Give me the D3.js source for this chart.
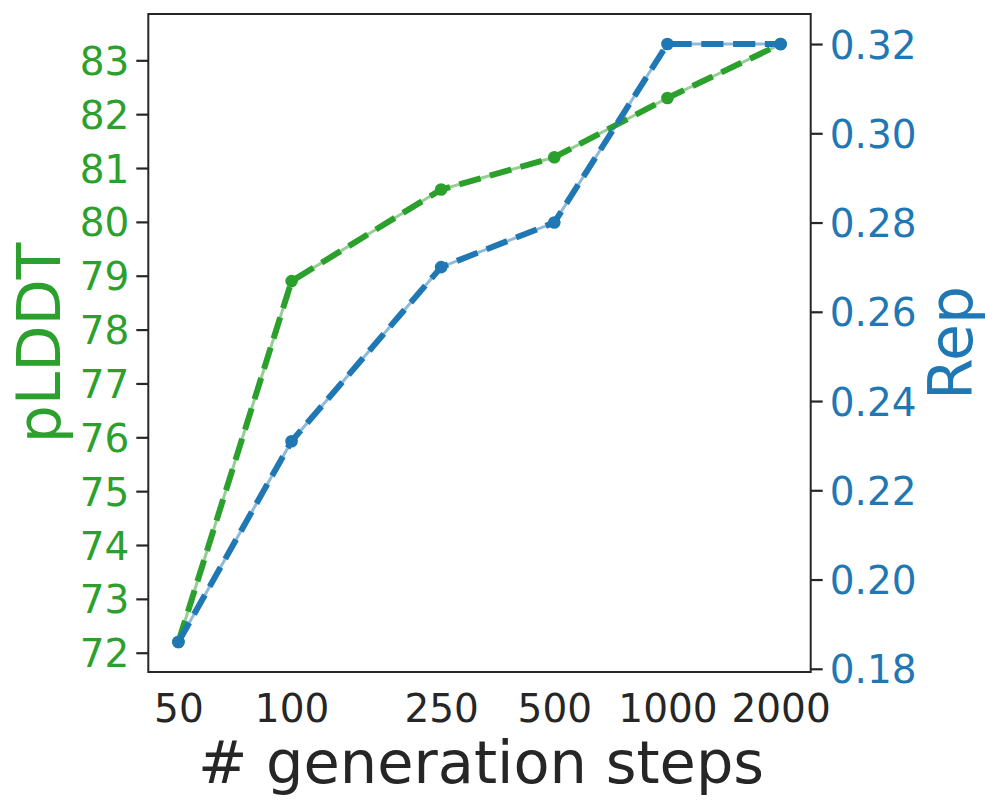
<!DOCTYPE html>
<html>
<head>
<meta charset="utf-8">
<script src="https://cdn.jsdelivr.net/npm/d3@7"></script>
<style>
  html, body { margin: 0; padding: 0; background: #fff; }
  svg { display: block; font-family: "DejaVu Sans", sans-serif; }
</style>
</head>
<body>
<svg id="chart" width="997" height="809"></svg>
<script>
// ---- data ----
const steps = [50, 100, 250, 500, 1000, 2000];
const plddt = [72.2, 78.9, 80.6, 81.2, 82.3, 83.3];
const rep = [0.186, 0.231, 0.270, 0.280, 0.320, 0.320];
const plddtTicks = [72, 73, 74, 75, 76, 77, 78, 79, 80, 81, 82, 83];
const repTicks = [0.18, 0.20, 0.22, 0.24, 0.26, 0.28, 0.30, 0.32];
const xLabel = "# generation steps";
const yLeftLabel = "pLDDT";
const yRightLabel = "Rep";

// ---- layout ----
const L = 148.3, R = 810.7, T = 14, B = 672;
const green = "#2ca02c", blue = "#1f77b4", dark = "#262626";

const svg = d3.select("#chart");

const logMin = Math.log10(50), logMax = Math.log10(2000);
const mx = (logMax - logMin) * 0.05;
const x = d3.scaleLog()
  .domain([Math.pow(10, logMin - mx), Math.pow(10, logMax + mx)])
  .range([L, R]);

const yL = d3.scaleLinear().domain([71.642, 83.86]).range([B, T]);
const yR = d3.scaleLinear().domain([0.17928, 0.32673]).range([B, T]);

// ---- lines ----
function drawSeries(vals, yScale, color) {
  const pts = steps.map((s, i) => [x(s), yScale(vals[i])]);
  const line = d3.line();
  svg.append("path").attr("d", line(pts))
    .attr("fill", "none").attr("stroke", color).attr("stroke-opacity", 0.5)
    .attr("stroke-width", 3);
  svg.append("path").attr("d", line(pts))
    .attr("fill", "none").attr("stroke", color)
    .attr("stroke-width", 6).attr("stroke-dasharray", "22.2,9.6");
  svg.selectAll(null).data(pts).enter().append("circle")
    .attr("cx", d => d[0]).attr("cy", d => d[1]).attr("r", 6.3)
    .attr("fill", color);
}
drawSeries(plddt, yL, green);
drawSeries(rep, yR, blue);

// ---- axes ----
const fs = 39;
const gL = svg.append("g").attr("transform", `translate(${L},0)`)
  .call(d3.axisLeft(yL).tickValues(plddtTicks).tickFormat(d3.format("d"))
    .tickSize(12).tickSizeOuter(0).tickPadding(7));
gL.select(".domain").remove();
gL.selectAll(".tick line").attr("stroke", dark).attr("stroke-width", 2.2);
gL.selectAll(".tick text").attr("fill", green).attr("font-size", fs)
  .attr("font-family", "DejaVu Sans").attr("dy", "0.36em");

const gR = svg.append("g").attr("transform", `translate(${R},0)`)
  .call(d3.axisRight(yR).tickValues(repTicks).tickFormat(d3.format(".2f"))
    .tickSize(12).tickSizeOuter(0).tickPadding(7));
gR.select(".domain").remove();
gR.selectAll(".tick line").attr("stroke", dark).attr("stroke-width", 2.2);
gR.selectAll(".tick text").attr("fill", blue).attr("font-size", fs)
  .attr("font-family", "DejaVu Sans").attr("dy", "0.36em");

const gX = svg.append("g").attr("transform", `translate(0,${B})`)
  .call(d3.axisBottom(x).tickValues(steps).tickFormat(d3.format("d"))
    .tickSize(0).tickSizeOuter(0).tickPadding(0));
gX.select(".domain").remove();
gX.selectAll(".tick text").attr("fill", dark).attr("font-size", fs)
  .attr("font-family", "DejaVu Sans").attr("y", 49.7).attr("dy", 0);

// ---- frame ----
svg.append("rect").attr("x", L).attr("y", T).attr("width", R - L).attr("height", B - T)
  .attr("fill", "none").attr("stroke", dark).attr("stroke-width", 2);

// ---- labels ----
svg.append("text").text(xLabel)
  .attr("x", (L + R) / 2 + 1.5).attr("y", 782.7)
  .attr("text-anchor", "middle").attr("font-size", 59).attr("fill", dark);

svg.append("text").text(yLeftLabel)
  .attr("transform", `translate(60,${(T + B) / 2}) rotate(-90)`)
  .attr("text-anchor", "middle").attr("font-size", 60).attr("fill", green);

svg.append("text").text(yRightLabel)
  .attr("transform", `translate(971.7,${(T + B) / 2}) rotate(-90)`)
  .attr("text-anchor", "middle").attr("font-size", 60).attr("fill", blue);
</script>
</body>
</html>
